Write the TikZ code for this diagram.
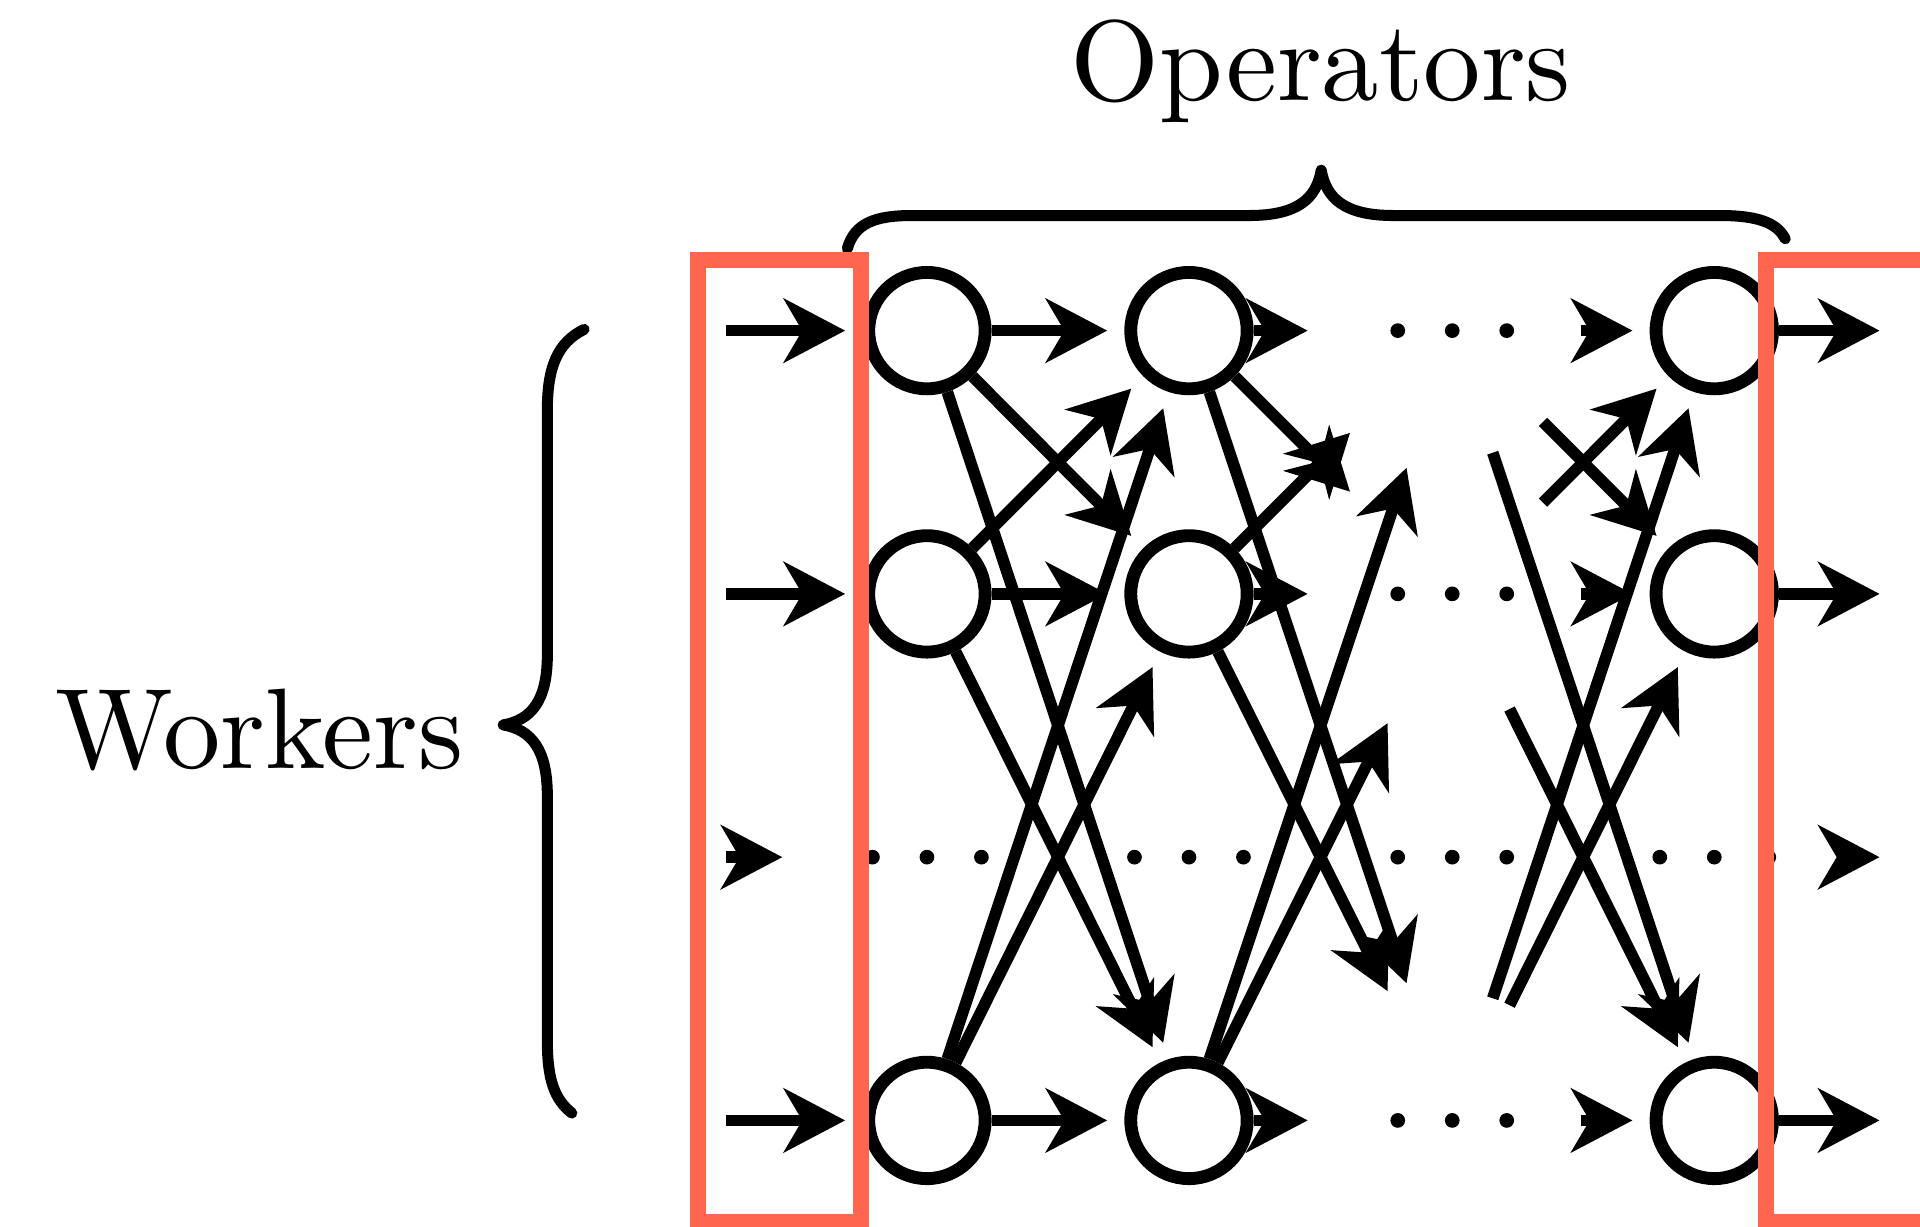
\documentclass[tikz,border=0pt]{standalone}
\usetikzlibrary{arrows.meta}
\definecolor{boxred}{RGB}{255,101,79}
\begin{document}
\begin{tikzpicture}[x=0.01cm,y=-0.01cm,
  op/.style={circle, draw, line width=0.105cm, minimum size=0.95cm, inner sep=0pt},
  flow/.style={line width=0.095cm, -{Stealth[length=0.5cm,width=0.52cm,inset=0.15cm]}, shorten >=0.14cm},
  toghost/.style={shorten >=1.18cm},
  fromghost/.style={shorten <=1.05cm},
  frame/.style={draw=boxred, line width=0.13cm},
  brace/.style={line width=0.09cm, line cap=round, line join=round},
  tagtext/.style={inner sep=0pt, font=\fontsize{10pt}{12pt}\selectfont}
]
\useasboundingbox (0,0) rectangle (1568,1002);

% operator instances: column 1, 2 and the last one (4); rows 1, 2 and 4
\foreach \c/\x in {1/757, 2/971, 4/1400}
  \foreach \r/\y in {1/270, 2/485, 4/915}
    \node[op] (n\c\r) at (\x,\y) {};

% elided positions (drawn as dots)
\coordinate (n13) at (757,700);
\coordinate (n23) at (971,700);
\coordinate (n33) at (1186,700);
\coordinate (n43) at (1400,700);
\coordinate (n31) at (1186,270);
\coordinate (n32) at (1186,485);
\coordinate (n34) at (1186,915);

% stream ends
\foreach \r/\y in {1/270, 2/485, 3/700, 4/915} {
  \coordinate (in\r) at (593,\y);
  \coordinate (out\r) at (1549,\y);
}

% dots
\foreach \g in {n13,n23,n33,n43,n31,n32,n34}
  \foreach \d in {-44.5,0,44.5}
    \fill ([xshift=\d*0.01cm]\g) circle (0.06cm);

% inputs
\foreach \r in {1,2,4} \draw[flow] (in\r) -- (n1\r);
\draw[flow, toghost] (in3) -- (n13);

% column 1 -> column 2
\foreach \s/\t in {11/21, 12/22, 14/24, 11/22, 11/24, 12/21, 12/24, 14/21, 14/22}
  \draw[flow] (n\s) -- (n\t);

% column 2 -> elided column
\foreach \s/\t in {21/31, 22/32, 24/34, 21/32, 21/34, 22/31, 22/34, 24/31, 24/32}
  \draw[flow, toghost] (n\s) -- (n\t);

% elided column -> last column
\foreach \s/\t in {31/41, 32/42, 34/44, 31/42, 31/44, 32/41, 32/44, 34/41, 34/42}
  \draw[flow, fromghost] (n\s) -- (n\t);

% outputs
\foreach \r in {1,2,4} \draw[flow] (n4\r) -- (out\r);
\draw[flow, fromghost] (n43) -- (out3);

% braces
\draw[brace] (692,203) .. controls (698,182) and (715,176) .. (745,176)
  -- (1020,176) .. controls (1060,176) and (1075,162) .. (1079,139)
  .. controls (1083,162) and (1098,176) .. (1138,176)
  -- (1405,176) .. controls (1440,176) and (1452,184) .. (1458,195);
\draw[brace] (477,269) .. controls (455,280) and (447,300) .. (447,335)
  -- (447,535) .. controls (447,572) and (434,588) .. (411,592)
  .. controls (434,596) and (447,612) .. (447,650)
  -- (447,850) .. controls (447,882) and (453,898) .. (467,909);

% labels
\node[tagtext, anchor=base] (ops) at (1078.5,82) {\scalebox{2.66}{Operators}};
\node[tagtext, anchor=base] (wrk) at (212,628) {\scalebox{2.66}{Workers}};

% source and sink frames
\begin{scope}
  \clip (0,0) rectangle (1568,1002);
  \draw[frame] (570,212) rectangle (703.5,998);
  \draw[frame] (1600,212) -- (1442.5,212) -- (1442.5,998) -- (1600,998);
\end{scope}
\end{tikzpicture}
\end{document}
